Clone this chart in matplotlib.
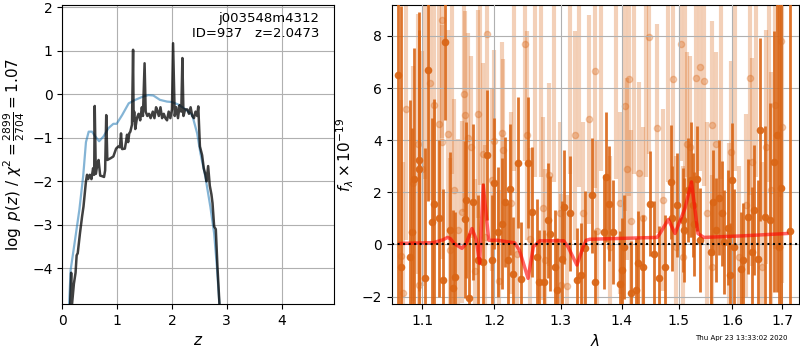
import matplotlib
matplotlib.use("Agg")
import matplotlib.pyplot as plt
from matplotlib.ticker import NullLocator, FixedLocator, FixedFormatter

# ---- left panel: log p(z) ----
z_fit = [0.14, 0.16, 0.17, 0.21, 0.24, 0.26, 0.28, 0.32, 0.36, 0.385, 0.43, 0.45, 0.47,
         0.50, 0.53, 0.56, 0.58, 0.59, 0.61, 0.64, 0.66, 0.69, 0.72, 0.76, 0.78, 0.80,
         0.82, 0.88, 0.93, 0.98, 1.02, 1.05, 1.07, 1.09, 1.14, 1.16, 1.18, 1.20, 1.22,
         1.24, 1.27, 1.29, 1.30, 1.31, 1.33, 1.36, 1.39, 1.42, 1.45, 1.47, 1.50, 1.52,
         1.55, 1.58, 1.61, 1.65, 1.68, 1.71, 1.73, 1.76, 1.79, 1.82, 1.85, 1.88, 1.91,
         1.94, 1.97, 2.00, 2.02, 2.05, 2.08, 2.11, 2.14, 2.17, 2.19, 2.21, 2.24, 2.28,
         2.31, 2.34, 2.37, 2.40, 2.43, 2.46, 2.48, 2.51, 2.55, 2.58, 2.61, 2.63, 2.66,
         2.69, 2.72, 2.74, 2.77, 2.80, 2.83, 2.87]
logp_fit = [-4.9, -4.1, -4.9, -4.35, -4.1, -3.7, -3.65, -3.2, -2.8, -2.58, -2.0, -1.85, -1.95,
            -1.85, -1.95, -1.7, -1.85, -0.27, -1.83, -1.6, -1.51, -1.87, -1.88, -1.9, -1.75, -0.48,
            -1.51, -1.47, -1.43, -1.25, -1.2, -1.22, -0.9, -1.26, -1.25, -1.1, -0.93, -1.1, -0.9,
            -0.86, -0.7, 1.02, -0.6, -0.4, -0.8, -0.55, -0.45, -0.6, -0.3, -0.5, 0.71, -0.4,
            -0.5, -0.45, -0.55, -0.4, -0.55, -0.3, -0.37, -0.5, -0.3, -0.55, -0.45, -0.55, -0.6,
            -0.4, -0.55, -0.35, 1.17, -0.5, -0.3, -0.55, -0.25, -0.4, 0.83, -0.5, -0.35, -0.35,
            -0.45, -0.3, -0.5, -0.55, -0.4, -0.5, -0.28, -1.2, -1.4, -1.7, -1.85, -2.0, -1.65,
            -2.1, -2.3, -2.5, -3.04, -3.1, -3.96, -4.9]

z_prior = [0.12, 0.15, 0.23, 0.31, 0.38, 0.43, 0.48, 0.54, 0.60, 0.67, 0.75, 0.84, 0.93,
           0.99, 1.09, 1.21, 1.33, 1.48, 1.57, 1.66, 1.78, 1.91, 2.00, 2.12, 2.25, 2.37,
           2.46, 2.52, 2.61, 2.70, 2.77, 2.82, 2.87]
logp_prior = [-4.9, -4.04, -3.35, -2.65, -1.87, -1.1, -0.86, -0.86, -0.97, -1.08, -0.97, -0.78,
              -0.68, -0.68, -0.48, -0.21, -0.13, -0.05, -0.02, -0.03, -0.13, -0.17, -0.18,
              -0.24, -0.35, -0.48, -0.9, -1.36, -1.9, -2.58, -3.2, -3.96, -4.9]

# ---- right panel: spectrum (f_lambda x 1e-19) ----
wave_a = [1.068, 1.072, 1.084, 1.086, 1.089, 1.095, 1.096, 1.103, 1.107, 1.113, 1.116, 1.122,
          1.128, 1.130, 1.137, 1.142, 1.145, 1.158, 1.160, 1.164, 1.169, 1.177, 1.184, 1.190,
          1.196, 1.200, 1.205, 1.211, 1.216, 1.220, 1.223, 1.227, 1.235, 1.239, 1.250, 1.256,
          1.263, 1.267, 1.274, 1.281, 1.284, 1.292, 1.294, 1.302, 1.306, 1.315, 1.326, 1.332,
          1.339, 1.351, 1.356, 1.370, 1.373, 1.378, 1.386, 1.397, 1.400, 1.403, 1.415, 1.424,
          1.427, 1.437, 1.449, 1.455, 1.465, 1.475, 1.485, 1.487, 1.497, 1.508, 1.509, 1.517,
          1.523, 1.526, 1.528, 1.534, 1.539, 1.559, 1.564, 1.569, 1.575, 1.580, 1.585, 1.591,
          1.595, 1.599, 1.604, 1.617, 1.620, 1.631, 1.639, 1.642, 1.650, 1.654, 1.665, 1.675,
          1.682, 1.689, 1.692, 1.697, 1.716]
flux_a = [6.49, -0.86, -0.47, 0.48, 2.53, 2.91, 3.23, -1.29, 6.68, 0.87, 1.57, 1.00,
          -1.37, 7.77, 0.55, -1.68, -1.24, 0.96, 1.70, -2.07, 1.63, -0.60, -0.66, 3.42,
          -0.60, 2.34, 0.48, 0.80, 1.63, -0.60, 2.11, -1.14, 3.14, -1.34, 3.14, 1.25,
          -0.47, -1.43, -1.43, 0.93, 0.42, -0.86, -1.75, -0.54, 1.44, 1.19, -1.37, -1.18,
          -0.15, 1.89, -1.43, 0.48, 2.59, 1.57, 0.48, -1.50, -0.99, -0.09, -1.88, -1.75,
          -0.73, -0.86, 1.57, -0.35, -1.30, -0.86, 2.40, 1.00, 1.50, 0.94, 0.55, 2.08,
          2.49, 1.51, 0.78, 2.53, 0.16, -0.28, 1.61, 0.55, 1.80, 1.19, 0.10, 0.64,
          -1.16, 2.47, -0.09, -0.94, -0.60, 1.06, -0.28, 1.32, -0.54, 4.41, 1.06, 0.93,
          3.17, 4.19, -0.09, 2.15, 0.51]
err_a = [10, 10, 6, 4, 5, 6, 5, 5, 5, 4, 4, 3,
         3.5, 3, 3, 3, 2.5, 3, 3, 2.5, 3, 2.5, 3, 2.5,
         2.5, 2.5, 2.5, 2.5, 2.5, 2.2, 2.5, 2.2, 2.5, 2.2, 2.5, 2.5,
         2.2, 2, 2, 2.2, 2.2, 2.2, 2, 2.2, 2.2, 2.2, 2, 2,
         2.2, 2.2, 2, 2.2, 2.5, 2.2, 2, 2, 2, 2, 2, 2,
         2, 2, 2, 2, 2, 2, 2.2, 2, 2, 2, 2, 2,
         2.2, 2, 2, 2, 2, 2, 2, 2, 2.2, 2, 2, 2.2,
         2, 2.2, 2.2, 2.2, 2.2, 2.2, 2.5, 2.5, 3, 3.5, 3.5, 4.5,
         5, 6, 10, 10, 10]

wave_b = [1.072, 1.074, 1.079, 1.088, 1.094, 1.096, 1.100, 1.110, 1.115, 1.122, 1.126, 1.127,
          1.134, 1.137, 1.143, 1.149, 1.154, 1.157, 1.158, 1.163, 1.167, 1.173, 1.177, 1.184,
          1.187, 1.189, 1.196, 1.200, 1.207, 1.211, 1.213, 1.225, 1.233, 1.246, 1.248, 1.253,
          1.273, 1.276, 1.282, 1.299, 1.300, 1.310, 1.323, 1.336, 1.346, 1.356, 1.358, 1.380,
          1.397, 1.405, 1.409, 1.413, 1.416, 1.430, 1.437, 1.446, 1.460, 1.471, 1.489, 1.495,
          1.503, 1.507, 1.514, 1.521, 1.531, 1.539, 1.546, 1.552, 1.561, 1.562, 1.568, 1.593,
          1.597, 1.613, 1.626, 1.634, 1.638, 1.659, 1.667, 1.676, 1.685, 1.697, 1.700,
          # bars whose points sit above the plotted range
          1.104, 1.140, 1.180, 1.229, 1.261, 1.270, 1.290, 1.315, 1.330, 1.365, 1.390,
          1.421, 1.442, 1.480, 1.512, 1.578, 1.606, 1.646, 1.672]
flux_b = [-0.45, -1.85, 5.18, 2.34, 3.85, -1.56, 2.91, 6.20, 5.34, 4.64, 8.60, 3.93,
          4.23, -0.20, 2.08, 0.55, 1.25, 5.76, 4.96, 4.10, 3.74, -1.00, 5.00, 3.46,
          0.30, 8.09, 2.47, 3.97, -1.40, 4.28, 3.62, 1.60, -0.35, 7.70, 4.19, 0.20,
          1.38, -0.60, 2.68, 1.20, -1.56, -1.60, 4.19, 1.20, 4.80, 6.66, 0.50, -0.10,
          1.60, 5.30, 2.90, 6.35, 0.90, 2.75, 1.00, 7.96, 4.45, 1.70, 6.35, -0.10,
          7.70, -0.50, 3.87, 3.74, 6.40, 6.81, 6.26, 1.20, 4.57, -0.85, 3.87, 0.40,
          3.55, -0.50, 1.50, 6.40, 3.17, -0.85, 3.74, 2.10, 5.34, 7.81, 4.51,
          10.5, 10.2, 10.8, 10.3, 10.6, 10.1, 10.4, 10.2, 10.7, 10.3, 10.5,
          10.2, 10.6, 10.4, 10.1, 10.5, 10.3, 10.6, 10.4]
err_b = [6, 5, 5, 4.5, 5, 4.5, 4.5, 4.5, 4.5, 4.5, 4.5, 4.5,
         4, 3.5, 3.5, 3.5, 3.5, 4.5, 4, 4, 3.5, 3.5, 4, 3.5,
         3.5, 4.5, 3.5, 3.5, 3.5, 3.5, 3.5, 3.5, 3.5, 4.5, 4, 3.5,
         3.5, 3.5, 3.5, 3.5, 3.5, 3.5, 4, 3.5, 4, 4.5, 3.5, 3.5,
         3.5, 4, 3.5, 4.5, 3.5, 3.5, 3.5, 4.5, 4, 3.5, 4, 3.5,
         4.5, 3.5, 3.5, 3.5, 4, 4, 4, 3.5, 4, 3.5, 3.5, 3.5,
         3.5, 3.5, 3.5, 4.5, 4, 4, 4.5, 4.5, 5.5, 6, 6,
         8, 7.5, 8.5, 7.5, 8, 7.5, 8, 7.5, 8.5, 7.5, 8,
         7.5, 8, 8, 7.5, 8, 7.5, 8, 8]

wave_model = [1.071, 1.115, 1.128, 1.134, 1.138, 1.143, 1.154, 1.160, 1.168, 1.174, 1.179,
              1.184, 1.192, 1.205, 1.230, 1.237, 1.250, 1.258, 1.268, 1.305, 1.312, 1.326,
              1.336, 1.341, 1.347, 1.461, 1.466, 1.481, 1.493, 1.511, 1.523, 1.535, 1.546,
              1.620, 1.709]
flux_model = [0.04, 0.07, 0.18, 0.27, 0.22, 0.04, -0.15, 0.04, 0.61, 0.20, -0.73,
              2.27, 0.16, 0.16, 0.06, -0.22, -1.30, -0.09, 0.14, 0.14, -0.10, -0.79,
              -0.10, 0.16, 0.20, 0.27, 0.42, 0.96, 0.42, 1.38, 2.40, 0.42, 0.27,
              0.33, 0.42]

lam_ticks = [1.1, 1.2, 1.3, 1.4, 1.5, 1.6, 1.7]
dark = "#da6616"

fig = plt.figure(figsize=(8, 3.5), dpi=100)
ax1 = fig.add_axes([0.078, 0.131, 0.339, 0.855])
ax2 = fig.add_axes([0.4896, 0.131, 0.5095, 0.855])

ax1.plot(z_prior, logp_prior, color="tab:blue", alpha=0.55, lw=1.6)
ax1.plot(z_fit, logp_fit, color="k", alpha=0.75, lw=1.8)
ax1.set_xlim(0, 4.95)
ax1.set_ylim(-4.82, 2.05)
ax1.set_xticks([0, 1, 2, 3, 4])
ax1.set_yticks([-4, -3, -2, -1, 0, 1, 2])
ax1.grid(color="#b0b0b0", lw=0.8)
ax1.set_xlabel("$z$", fontsize=11)
ax1.set_ylabel(r"$\log\ p(z)$ / $\chi^2=\frac{2899}{2704}=1.07$", fontsize=11)
ax1.text(0.947, 0.975, "j003548m4312\nID=937   z=2.0473", transform=ax1.transAxes,
         ha="right", va="top", fontsize=9.5)

ax2.errorbar(wave_b, flux_b, yerr=err_b, fmt="o", color=dark, alpha=0.3, ms=4.5,
             elinewidth=3, capsize=0, zorder=2)
ax2.errorbar(wave_a, flux_a, yerr=err_a, fmt="o", color=dark, alpha=0.9, ms=4.5,
             elinewidth=2, capsize=0, zorder=3)
ax2.plot(wave_model, flux_model, color="red", alpha=0.6, lw=2.5, zorder=4)
ax2.axhline(0, color="k", ls=":", lw=1.5, zorder=5)
ax2.set_xscale("log")
ax2.set_xlim(1.06, 1.735)
ax2.set_ylim(-2.29, 9.19)
ax2.xaxis.set_major_locator(FixedLocator(lam_ticks))
ax2.xaxis.set_major_formatter(FixedFormatter([f"{t:.1f}" for t in lam_ticks]))
ax2.xaxis.set_minor_locator(NullLocator())
ax2.set_yticks([-2, 0, 2, 4, 6, 8])
ax2.grid(color="#b0b0b0", lw=0.8)
ax2.set_axisbelow(False)
for gl in ax2.get_xgridlines() + ax2.get_ygridlines():
    gl.set_zorder(1)
ax2.set_xlabel(r"$\lambda$", fontsize=11)
ax2.set_ylabel(r"$f_\lambda\times10^{-19}$", fontsize=11)

fig.text(0.984, 0.025, "Thu Apr 23 13:33:02 2020", ha="right", va="bottom", fontsize=5)

fig.savefig("out.png", dpi=100)
